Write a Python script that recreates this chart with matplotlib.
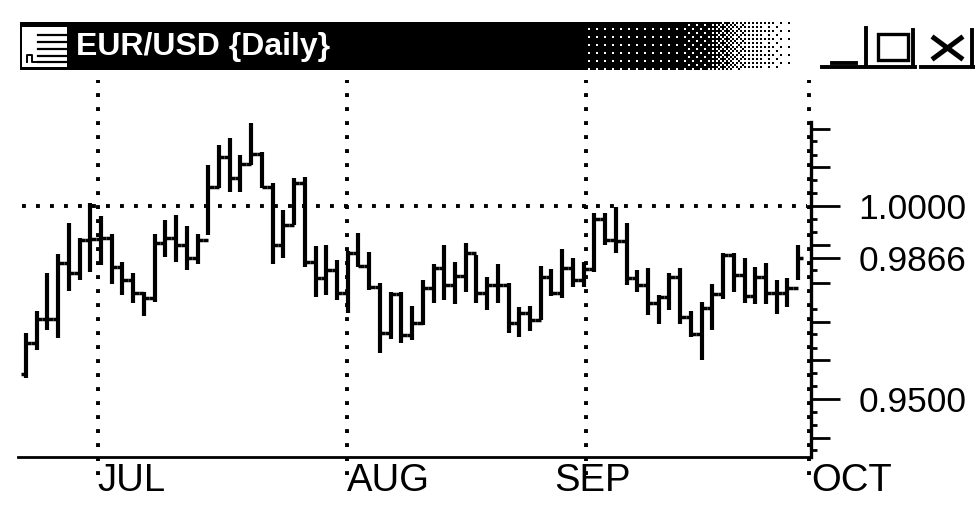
import numpy as np
import matplotlib
matplotlib.use('Agg')
import matplotlib.pyplot as plt
from matplotlib.patches import Rectangle

# Daily EUR/USD bars
highs = [.9671, .9728, .9826, .9876, .9956, .9917, 1.0008, .9974, .9927, .9855,
         .9826, .9777, .9927, .9964, .9977, .9948, .9927, 1.0106, 1.0158, 1.0176,
         1.0132, 1.0215, 1.0140, 1.0060, .9990, 1.0073, 1.0075, .9896, .9899, .9860,
         .9883, .9930, .9881, .9801, .9777, .9777, .9741, .9808, .9850, .9899,
         .9855, .9904, .9873, .9816, .9850, .9801, .9738, .9741, .9845, .9837,
         .9889, .9865, .9855, .9982, .9982, .9997, .9956, .9834, .9839, .9769,
         .9826, .9839, .9728, .9751, .9798, .9878, .9878, .9865, .9842, .9852,
         .9808, .9814, .9899]
lows = [.9555, .9627, .9679, .9658, .9780, .9808, .9829, .9847, .9798, .9769,
        .9749, .9715, .9751, .9868, .9855, .9834, .9850, .9925, 1.0047, 1.0036,
        1.0036, 1.0106, 1.0047, .9850, .9865, .9951, .9842, .9764, .9769, .9757,
        .9723, .9842, .9782, .9619, .9656, .9645, .9653, .9692, .9749, .9757,
        .9746, .9777, .9749, .9731, .9749, .9671, .9661, .9676, .9705, .9767,
        .9762, .9790, .9790, .9829, .9899, .9878, .9795, .9777, .9718, .9694,
        .9731, .9694, .9661, .9601, .9679, .9759, .9777, .9749, .9746, .9746,
        .9720, .9738, .9808]
opens = [.9565, .9645, .9707, .9707, .9852, .9826, .9912, .9915, .9917, .9842,
         .9808, .9775, .9762, .9904, .9917, .9899, .9865, .9912, 1.0049, 1.0127,
         1.0073, 1.0109, 1.0135, 1.0049, .9899, .9951, 1.0060, .9855, .9814, .9834,
         .9775, .9878, .9845, .9790, .9671, .9772, .9666, .9697, .9788, .9839,
         .9795, .9819, .9878, .9775, .9795, .9795, .9697, .9723, .9705, .9816,
         .9775, .9839, .9808, .9837, .9966, .9912, .9909, .9814, .9795, .9749,
         .9764, .9816, .9713, .9668, .9736, .9772, .9873, .9821, .9767, .9816,
         .9775, .9775, .9788]
closes = [.9645, .9707, .9707, .9852, .9826, .9912, .9915, .9917, .9842, .9808,
          .9775, .9762, .9904, .9917, .9899, .9865, .9912, 1.0049, 1.0127, 1.0073,
          1.0109, 1.0135, 1.0049, .9899, .9951, 1.0060, .9855, .9814, .9834, .9775,
          .9878, .9845, .9790, .9671, .9772, .9666, .9697, .9788, .9839, .9795,
          .9819, .9878, .9775, .9795, .9795, .9697, .9723, .9705, .9816, .9775,
          .9839, .9808, .9837, .9966, .9912, .9909, .9814, .9795, .9749, .9764,
          .9816, .9713, .9668, .9736, .9772, .9873, .9821, .9767, .9816, .9775,
          .9775, .9788, .9865]

months = ['JUL', 'AUG', 'SEP', 'OCT']
month_pos = [6.7, 29.9, 52.2, 73.0]
month_label_pos = [6.7, 29.9, 49.3, 73.2]

price_ticks = [1.0, 0.9866, 0.95]
price_labels = ['1.0000', '0.9866', '0.9500']
medium_ticks = [1.02, 1.01, 0.99, 0.98, 0.97, 0.96, 0.94]
small_ticks = [1.0167, 1.0133, 1.0067, 1.0033, 0.9967, 0.9933, 0.9833, 0.9733,
               0.9667, 0.9633, 0.9567, 0.9533, 0.9467, 0.9433, 0.9367]

title = 'EUR/USD {Daily}'

plt.rcParams['font.family'] = ['Liberation Sans', 'DejaVu Sans']

fig = plt.figure(figsize=(9.75, 5.05), dpi=100)
W, H = 975, 505
ax = fig.add_axes([18/W, 1 - 457/H, (811 - 18)/W, (457 - 75)/H])
ax.set_xlim(-0.744, 73.02)
ax.set_ylim(0.93497, 1.0339)
ax.patch.set_alpha(0)

x = np.arange(len(closes))
dots = (0, (1, 2.6))

# Dotted grid runs past the axis on top and bottom
ax.vlines(month_pos, 0.9303, 1.0326, colors='k', lw=2.8, linestyles=dots, clip_on=False, zorder=1)
ax.hlines(1.0, -0.33, 72.8, colors='k', lw=2.8, linestyles=dots, zorder=1)

# OHLC bars, the ticks meet so it reads like a staircase
ax.vlines(x, lows, highs, colors='k', lw=3.0, zorder=3)
ax.hlines(opens, x - 0.5, x, colors='k', lw=2.5, zorder=3)
ax.hlines(closes, x, x + 0.5, colors='k', lw=2.5, zorder=3)

for s in ['top', 'left']:
    ax.spines[s].set_visible(False)
ax.spines['right'].set_bounds(0.93497, 1.0218)
ax.spines['right'].set_linewidth(2.4)
ax.spines['bottom'].set_linewidth(2.0)

ax.set_xticks(month_label_pos, months, fontsize=27.5, ha='left')
ax.tick_params(axis='x', length=0, pad=4)

ax.yaxis.tick_right()
ax.set_yticks(price_ticks, price_labels, fontsize=25.5)
ax.set_yticks(medium_ticks, minor=True)
ax.tick_params(axis='y', which='major', length=21, width=2.0, pad=13)
ax.tick_params(axis='y', which='minor', length=14, width=2.0)
ax.hlines(small_ticks, 1, 1 + 6/793, colors='k', lw=2.0,
          transform=ax.get_yaxis_transform(), clip_on=False)

# Window title bar on a pixel axes over the whole figure
chrome = fig.add_axes([0, 0, 1, 1])
chrome.axis('off')
chrome.patch.set_alpha(0)

# title bar fades out to the right as a coarse ordered dither
bayer = np.array([[0, 8, 2, 10], [12, 4, 14, 6], [3, 11, 1, 9], [15, 7, 13, 5]]) / 16 + 1/32
cell = 2
nx, ny = (800 - 20)//cell, (71 - 22)//cell
px = 20 + np.arange(nx)*cell
dark = np.interp(px, [20, 560, 600, 700, 745, 800], [1, 1, 0.95, 0.9, 0.3, 0])
thresh = np.tile(bayer, (ny//4 + 1, nx//4 + 1))[:ny, :nx]
chrome.imshow(dark[None, :] > thresh, cmap='gray_r', vmin=0, vmax=1, aspect='auto',
              interpolation='nearest', extent=(20, 20 + nx*cell, 22 + ny*cell, 22))
chrome.set_xlim(0, W)
chrome.set_ylim(H, 0)

chrome.text(76, 47, title, color='w', fontsize=23, fontweight='bold', va='center', ha='left')

# icon
chrome.add_patch(Rectangle((22, 27), 45, 40, fc='w', ec='none'))
for yy in [35, 42, 49, 56, 62]:
    chrome.plot([38, 66], [yy, yy], color='k', lw=1.6)
chrome.plot([27, 27, 32, 32, 38], [62, 55, 55, 62, 62], color='k', lw=1.4)

# window buttons
chrome.plot([822, 915], [67, 67], color='k', lw=2.8)
chrome.plot([921, 975], [67, 67], color='k', lw=2.8)
chrome.plot([832, 856], [63, 63], color='k', lw=2.8)
chrome.plot([866, 866], [28, 66], color='k', lw=2.8)
chrome.plot([913, 913], [30, 66], color='k', lw=2.8)
chrome.plot([972, 972], [30, 66], color='k', lw=2.8)
chrome.add_patch(Rectangle((878, 34), 30, 26, fc='none', ec='k', lw=2.4))
chrome.plot([934, 961], [38, 58], color='k', lw=3.6)
chrome.plot([934, 961], [58, 38], color='k', lw=3.6)

fig.savefig('out.png', dpi=100)
